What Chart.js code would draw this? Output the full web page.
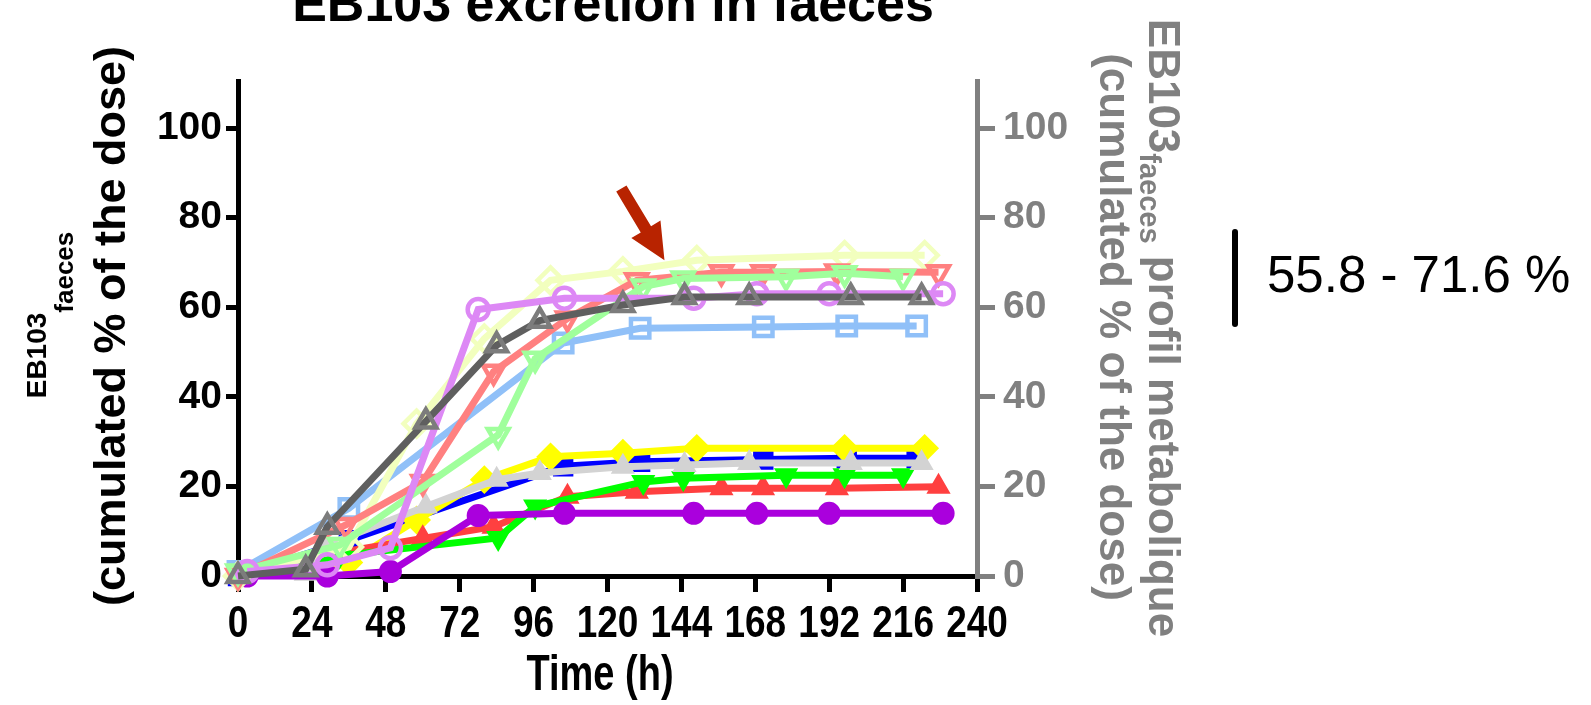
<!DOCTYPE html>
<html>
<head>
<meta charset="utf-8">
<script src="https://cdn.jsdelivr.net/npm/chart.js@4.4.1/dist/chart.umd.min.js"></script>
<style>
  html, body { margin: 0; padding: 0; background: #fff; }
  canvas { display: block; }
</style>
</head>
<body>
<canvas id="chart" width="1591" height="705"></canvas>
<script>
// sampling times (h), one list per subject
const timesA = [0, 22, 29, 61, 84, 98, 125, 145, 166, 199, 222];
const timesB = [3, 29, 49.5, 78, 106, 148, 168.5, 192, 229];
const timesC = [0, 36, 58, 80, 101.5, 125, 149, 197, 223];
const timesD = [0, 36, 105.6, 130.6, 170.6, 197.7, 220.4];
const timesE = [0, 35, 60, 83, 107, 129.5, 157, 170.5, 194.5, 227.5];
const timesF = [0, 33, 84.5, 96.5, 131.6, 144.6, 178, 197, 216];

// EB103 faeces profil metabolique (open markers, right axis)
const darkGrayVals   = [0, 1.5, 11, 34.5, 51.5, 57, 60.5, 62.3, 62.3, 62.3, 62.3];
const lilacVals      = [1, 2.5, 6.3, 59.5, 62, 62, 63, 63, 63];
const paleYellowVals = [0, 6.5, 34, 53, 66, 68, 70.5, 71.6, 71.6];
const lightBlueVals  = [1, 15.1, 52, 55.3, 55.6, 55.8, 55.8];
const salmonVals     = [0, 11.4, 21, 45.6, 57.5, 66, 67.8, 67.8, 68, 67.8];
const lightGreenVals = [1, 6.9, 31.5, 48.5, 64.6, 66.4, 66.8, 67.6, 66.8];

// EB103 faeces (filled markers, left axis)
const lightGrayVals = [0, 0.5, 7, 15.5, 21.5, 23, 24.4, 24.8, 25.2, 25.2, 25.2];
const purpleVals    = [0, 0, 1, 13.5, 14, 14, 14, 14, 14];
const yellowVals    = [0, 3, 12.5, 21.5, 26.6, 27.4, 28.5, 28.5, 28.5];
const blueVals      = [0, 8, 24.5, 25.5, 26, 26.3, 26.3];
const redVals       = [0, 5.5, 8.4, 11, 17.7, 18.8, 19.6, 19.6, 19.6, 19.9];
const greenVals     = [0, 4.5, 8.5, 15.5, 21, 21.8, 22.5, 22.5, 22.5];

const xTickStep = 24;
const yTickStep = 20;
const rangeText = '55.8 - 71.6 %';

const FONT = '"Liberation Sans", Arial, Helvetica, sans-serif';
const markerSize = { rect: 13, triangle: 12, circle: 10.5, rectRot: 13 };

function toPoints(times, vals) {
    return vals.map((v, i) => ({ x: times[i], y: v }));
}

function series(label, times, vals, lineColor, markerColor, style, open, rotation, axis) {
    return {
        label: label,
        data: toPoints(times, vals),
        yAxisID: axis,
        borderColor: lineColor,
        borderWidth: 7,
        pointStyle: style,
        pointRotation: rotation || 0,
        pointRadius: markerSize[style],
        pointHoverRadius: markerSize[style],
        pointBorderColor: markerColor,
        pointBackgroundColor: open ? 'rgba(0,0,0,0)' : markerColor,
        pointBorderWidth: open ? 4.5 : 2,
        tension: 0,
        clip: false,
        fill: false
    };
}

// dataset 0 is drawn on top
const datasets = [
    series('A profil', timesA, darkGrayVals, '#5f5f5f', '#7c7c7c', 'triangle', true, 0, 'y2'),
    series('B profil', timesB, lilacVals, '#dd88f5', '#dd88f5', 'circle', true, 0, 'y2'),
    series('F profil', timesF, lightGreenVals, '#a0ff9c', '#a0ff9c', 'triangle', true, 180, 'y2'),
    series('E profil', timesE, salmonVals, '#ff8080', '#ff8080', 'triangle', true, 180, 'y2'),
    series('C profil', timesC, paleYellowVals, '#f2ffbe', '#f2ffbe', 'rectRot', true, 0, 'y2'),
    series('D profil', timesD, lightBlueVals, '#90c0f8', '#90c0f8', 'rect', true, 0, 'y2'),
    series('B', timesB, purpleVals, '#aa00dd', '#aa00dd', 'circle', false, 0, 'y'),
    series('A', timesA, lightGrayVals, '#d3d3d3', '#d3d3d3', 'triangle', false, 0, 'y'),
    series('F', timesF, greenVals, '#00ff00', '#00ff00', 'triangle', false, 180, 'y'),
    series('E', timesE, redVals, '#ff4040', '#ff4040', 'triangle', false, 0, 'y'),
    series('C', timesC, yellowVals, '#ffff00', '#ffff00', 'rectRot', false, 0, 'y'),
    series('D', timesD, blueVals, '#0000ff', '#0000ff', 'rect', false, 0, 'y')
];

// text pieces drawn rotated, with optional subscript offset
function drawRotated(ctx, cx, cy, angle, parts, color) {
    ctx.save();
    ctx.translate(cx, cy);
    ctx.rotate(angle);
    ctx.fillStyle = color;
    ctx.textAlign = 'left';
    ctx.textBaseline = 'alphabetic';
    let total = 0;
    parts.forEach(p => { ctx.font = p.font; p.w = ctx.measureText(p.text).width; total += p.w; });
    let u = -total / 2;
    parts.forEach(p => { ctx.font = p.font; ctx.fillText(p.text, u, p.dv || 0); u += p.w; });
    ctx.restore();
}

function drawSquashed(ctx, text, x, y, font, sx) {
    ctx.save();
    ctx.translate(x, y);
    ctx.scale(sx, 1);
    ctx.font = font;
    ctx.textAlign = 'center';
    ctx.textBaseline = 'alphabetic';
    ctx.fillText(text, 0, 0);
    ctx.restore();
}

const decorations = {
    id: 'decorations',
    afterDraw(chart) {
        const ctx = chart.ctx;
        const xs = chart.scales.x;
        const ys = chart.scales.y;

        // title (cut at the top like the original)
        ctx.save();
        ctx.fillStyle = '#000';
        ctx.font = 'bold 52px ' + FONT;
        ctx.textAlign = 'center';
        ctx.fillText('EB103 excretion in faeces', 613, 21);
        ctx.restore();

        // x tick labels, condensed
        ctx.fillStyle = '#000';
        xs.ticks.forEach(t => {
            drawSquashed(ctx, String(t.value), xs.getPixelForValue(t.value), 637, 'bold 44px ' + FONT, 0.84);
        });
        drawSquashed(ctx, 'Time (h)', 600, 690, 'bold 50px ' + FONT, 0.76);

        // left axis title
        drawRotated(ctx, 46, 315, -Math.PI / 2, [
            { text: 'EB103', font: 'bold 28px ' + FONT },
            { text: 'faeces', font: 'bold 26px ' + FONT, dv: 27 }
        ], '#000');
        drawRotated(ctx, 125, 326, -Math.PI / 2, [
            { text: '(cumulated % of the dose)', font: 'bold 45px ' + FONT }
        ], '#000');

        // right axis title
        drawRotated(ctx, 1149, 328, Math.PI / 2, [
            { text: 'EB103', font: 'bold 44px ' + FONT },
            { text: 'faeces', font: 'bold 29px ' + FONT, dv: 9 },
            { text: ' profil metabolique', font: 'bold 44px ' + FONT }
        ], '#808080');
        drawRotated(ctx, 1100, 327, Math.PI / 2, [
            { text: '(cumulated % of the dose)', font: 'bold 44px ' + FONT }
        ], '#808080');

        // red arrow pointing at the plateau
        const tailX = xs.getPixelForValue(124.5), tailY = ys.getPixelForValue(86.5);
        const tipX = xs.getPixelForValue(138.5), tipY = ys.getPixelForValue(70.5);
        const len = Math.hypot(tipX - tailX, tipY - tailY);
        const dx = (tipX - tailX) / len, dy = (tipY - tailY) / len;
        const nx = -dy, ny = dx;
        const head = 36, shaft = 6, wing = 17;
        const bx = tipX - dx * head, by = tipY - dy * head;
        ctx.save();
        ctx.fillStyle = '#b82300';
        ctx.beginPath();
        ctx.moveTo(tailX + nx * shaft, tailY + ny * shaft);
        ctx.lineTo(bx + nx * shaft, by + ny * shaft);
        ctx.lineTo(bx + nx * wing, by + ny * wing);
        ctx.lineTo(tipX, tipY);
        ctx.lineTo(bx - nx * wing, by - ny * wing);
        ctx.lineTo(bx - nx * shaft, by - ny * shaft);
        ctx.lineTo(tailX - nx * shaft, tailY - ny * shaft);
        ctx.closePath();
        ctx.fill();
        ctx.restore();

        // range annotation on the right
        ctx.save();
        ctx.strokeStyle = '#000';
        ctx.lineWidth = 6;
        ctx.lineCap = 'round';
        ctx.beginPath();
        ctx.moveTo(1235, 232);
        ctx.lineTo(1235, 324);
        ctx.stroke();
        ctx.fillStyle = '#000';
        ctx.font = '51px ' + FONT;
        ctx.textAlign = 'left';
        ctx.fillText(rangeText, 1267, 292);
        ctx.restore();
    }
};

function yAxis(position, color, width) {
    return {
        type: 'linear',
        position: position,
        min: 0,
        max: 110.5,
        grid: {
            drawOnChartArea: false,
            drawTicks: true,
            tickLength: position === 'left' ? 12 : 18,
            tickWidth: 5,
            lineWidth: 5,
            color: color
        },
        border: { display: true, color: color, width: 5 },
        ticks: {
            stepSize: yTickStep,
            includeBounds: false,
            color: color,
            padding: position === 'left' ? 4 : 8,
            font: { family: FONT, size: 39, weight: 'bold' }
        },
        afterFit: s => { s.width = width; }
    };
}

new Chart(document.getElementById('chart'), {
    type: 'line',
    data: { datasets: datasets },
    plugins: [decorations],
    options: {
        responsive: false,
        animation: false,
        devicePixelRatio: 1,
        layout: { padding: { top: 81, left: 0, right: 0, bottom: 0 } },
        plugins: {
            legend: { display: false },
            title: { display: false },
            tooltip: { enabled: false }
        },
        scales: {
            x: {
                type: 'linear',
                min: 0,
                max: 240,
                grid: {
                    drawOnChartArea: false,
                    drawTicks: true,
                    tickLength: 16,
                    tickWidth: 5,
                    lineWidth: 5,
                    color: '#000'
                },
                border: { display: true, color: '#000', width: 5 },
                ticks: {
                    stepSize: xTickStep,
                    color: 'rgba(0,0,0,0)',
                    font: { family: FONT, size: 20, weight: 'bold' }
                },
                afterFit: s => { s.height = 129; }
            },
            y: yAxis('left', '#000', 238),
            y2: yAxis('right', '#808080', 614)
        }
    }
});
</script>
</body>
</html>
